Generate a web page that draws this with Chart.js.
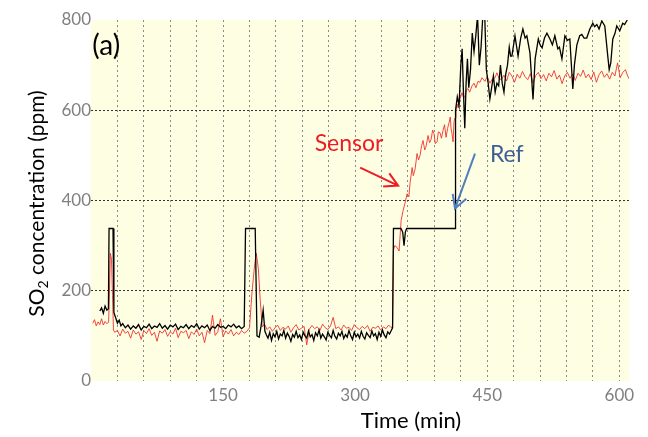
<!DOCTYPE html>
<html>
<head>
<meta charset="utf-8">
<script src="https://cdn.jsdelivr.net/npm/chart.js@4/dist/chart.umd.min.js"></script>
<style>
  html, body { margin: 0; padding: 0; background: #fff; }
  #wrap { width: 648px; height: 437px; }
</style>
</head>
<body>
<div id="wrap"><canvas id="grafica"></canvas></div>
<script>
const xTickLabels = [150, 300, 450, 600];
const yTickLabels = [0, 200, 400, 600, 800];

const refTimes = [10,12,14,16,18,19.8,20.5,25,26,28,30,32,34,36,39,42,45,48,51,54,57,60,63,66,69,72,75,78,81,84,87,90,93,96,99,102,105,108,111,114,117,120,123,126,129,132,135,138,141,144,147,150,153,156,159,162,165,168,171,174,
  175.5,186.5,188.5,191,193,195.5,197.5,199,201,203,205,207,209,211,213,215,217,219,221,223,225,227,229,231,233,235,237,239,241,243,245,247,249,251,253,255,257,259,261,263,265,267,269,271,273,275,277,279,281,283,285,287,289,291,293,295,297,299,301,303,305,307,309,311,313,315,317,319,321,323,325,327,329,331,333,335,337,339,341,342.5,
  343.5,352,354,355.5,357,358.5,413.4,414,416,418,420,421.5,423,424.5,426,427.5,429,431,433,435,437,439,441,443,445,447,449,451,453,455,457,459,461,463,465,467,469,471,473,475,476.5,478,481.5,485,488,490.5,493,495,498.5,502,504.4,508,510,512.3,515,517.8,521.2,524,526.8,530.2,532,534.8,538.2,541,543.8,547.2,549,551.8,555,557.4,560,563,566.5,569.9,572,574.5,577,580.1,583.5,586.9,588.5,590.3,592.6,595,597.1,600.5,603.9,606,609];
const refPpm = [155,162,150,166,157,160,338,338,152,140,128,135,122,127,118,124,115,122,117,125,113,121,118,126,116,122,119,127,117,123,115,124,120,126,114,121,118,125,116,123,119,127,115,122,118,124,112,121,117,125,119,121,116,124,120,126,118,122,116,121,
  338,338,100,97,120,157,110,103,95,108,90,105,98,110,93,104,100,112,95,106,99,88,103,97,110,96,102,92,108,100,95,111,98,103,90,107,100,113,95,104,98,91,108,101,96,112,99,93,106,100,110,94,103,97,112,100,92,108,98,104,95,110,99,93,107,101,96,111,100,105,92,108,99,113,102,96,109,104,112,118,
  338,338,330,300,330,338,338,600,630,610,700,736,640,560,660,714,650,690,771,730,765,810,700,740,810,820,690,661,625,650,676,640,660,654,700,660,640,680,700,740,720,720,765,720,760,780,760,765,727,624,714,758,745,738,760,771,758,745,765,736,740,714,765,755,758,647,700,745,765,768,760,760,780,793,785,790,780,798,787,720,690,705,758,770,787,776,793,790,800];

const sensorTimes = [2,4,6,8,10,12,14,16,18,20,21,22,23.3,24.4,25.5,
  27,30,33,36,39,42,45,48,51,54,57,60,63,66,69,72,75,78,81,84,87,90,93,96,99,102,105,108,111,114,117,120,123,126,129,132,135,138,141,144,147,150,153,156,159,162,165,168,171,174,177,
  180,183,186,187.7,190,192.2,194.5,197,
  200,203,206,209,212,215,218,221,224,227,230,233,236,239,242,245,248,251,254,257,260,263,266,269,272,275,278,281,284,287,290,293,296,299,302,305,308,311,314,317,320,323,326,329,332,335,338,341,342.5,
  343.5,345,347.6,349.9,352.2,354.5,356.7,359,361,362.4,364.7,366,368.1,370.3,372,373.7,375.5,377.1,379,380.5,382.8,384.5,386.2,388,389.6,391,393,394.5,396.4,398,399.8,401.5,403.2,405,406.6,408,408.9,410,411.2,412.3,413.4,414.5,415.7,417,419.1,421.3,423,424.7,426.5,428.2,430,432.7,435,437.2,439.5,441.8,444,447.4,450,453,456,458.8,461,464,466.7,469,472,475,478,481,484,487,490,493,496,499,502,505,508,511,514,517,520,523,526,529,532,535,538,541,544,547,550,553,556,559,562,565,568,571,574,577,580,583,586,589,592,595,598,601,604,607,609,611];
const sensorPpm = [128,136,122,131,125,138,124,132,127,130,200,283,270,190,113,
  108,112,100,115,106,110,95,113,104,109,92,112,105,116,101,108,88,111,106,114,99,109,104,117,96,110,107,112,94,109,103,115,100,108,85,112,105,146,101,109,138,98,111,104,114,100,108,103,112,106,110,
  118,200,260,283,250,179,120,126,
  114,120,110,118,124,112,119,115,122,108,118,125,113,117,121,80,115,123,116,120,112,126,118,114,122,141,116,120,113,124,117,119,112,125,118,114,121,116,123,110,119,117,122,113,120,116,124,118,122,
  290,300,296,288,356,378,395,415,408,440,473,455,470,504,490,500,522,533,512,520,544,528,535,556,548,526,530,552,550,538,555,568,540,560,572,585,560,548,530,575,583,600,614,605,625,639,628,630,645,648,640,654,660,650,664,662,672,664,675,660,670,672,683,668,670,678,665,684,676,662,680,671,686,674,668,681,660,677,684,670,679,665,682,674,688,669,678,659,676,684,671,680,666,682,675,689,672,680,668,685,662,679,687,673,681,669,684,676,705,672,684,690,678,670];

// etiquetas y flechas, en unidades de datos
const notes = [
  { text: '(a)', t: 1.5, v: 742, color: '#000', size: 28 },
  { text: 'Sensor', t: 254, v: 526, color: '#ee1c24', size: 23 },
  { text: 'Ref', t: 453, v: 502, color: '#3e5f95', size: 23 }
];
const arrows = [
  { t0: 305.7, v0: 473, t1: 348.8, v1: 433, color: '#ee1c24' },
  { t0: 436.1, v0: 504, t1: 413.4, v1: 382, color: '#4f7fc0' }
];

function toPoints(times, vals) {
  return times.map((t, i) => ({ x: t, y: vals[i] }));
}

const fondoYTextos = {
  id: 'fondoYTextos',
  beforeDraw(chart) {
    const a = chart.chartArea;
    const ctx = chart.ctx;
    ctx.save();
    ctx.fillStyle = '#fefee2';
    ctx.fillRect(a.left, a.top, a.right - a.left, a.bottom - a.top);
    ctx.restore();
  },
  afterDraw(chart) {
    const ctx = chart.ctx;
    const xs = chart.scales.x, ys = chart.scales.y;
    const a = chart.chartArea;
    ctx.save();
    ctx.textBaseline = 'middle';
    notes.forEach(n => {
      ctx.fillStyle = n.color;
      ctx.font = n.size + 'px Lato';
      ctx.fillText(n.text, xs.getPixelForValue(n.t), ys.getPixelForValue(n.v));
    });
    arrows.forEach(ar => {
      const x0 = xs.getPixelForValue(ar.t0), y0 = ys.getPixelForValue(ar.v0);
      const x1 = xs.getPixelForValue(ar.t1), y1 = ys.getPixelForValue(ar.v1);
      const ang = Math.atan2(y1 - y0, x1 - x0);
      ctx.strokeStyle = ar.color;
      ctx.lineWidth = 2;
      ctx.beginPath();
      ctx.moveTo(x0, y0);
      ctx.lineTo(x1, y1);
      ctx.moveTo(x1 - 15 * Math.cos(ang - 0.5), y1 - 15 * Math.sin(ang - 0.5));
      ctx.lineTo(x1, y1);
      ctx.lineTo(x1 - 15 * Math.cos(ang + 0.5), y1 - 15 * Math.sin(ang + 0.5));
      ctx.stroke();
    });

    // titulo eje x
    ctx.fillStyle = '#000';
    ctx.font = '22px Lato';
    ctx.textAlign = 'center';
    ctx.fillText('Time (min)', 411, 421);

    // titulo eje y con subindice
    ctx.translate(37, (a.top + a.bottom) / 2 + 3);
    ctx.rotate(-Math.PI / 2);
    ctx.textAlign = 'left';
    const big = '21px Lato', small = '14px Lato';
    ctx.font = big;
    const w1 = ctx.measureText('SO').width;
    const w3 = ctx.measureText(' concentration (ppm)').width;
    ctx.font = small;
    const w2 = ctx.measureText('2').width;
    let x = -(w1 + w2 + w3) / 2;
    ctx.font = big;
    ctx.fillText('SO', x, 0);
    x += w1;
    ctx.font = small;
    ctx.fillText('2', x, 6);
    x += w2;
    ctx.font = big;
    ctx.fillText(' concentration (ppm)', x, 0);
    ctx.restore();
  }
};

const ctx = document.getElementById('grafica').getContext('2d');
new Chart(ctx, {
  type: 'line',
  data: {
    datasets: [{
      label: 'Ref',
      data: toPoints(refTimes, refPpm),
      borderColor: '#000',
      borderWidth: 1.3,
      pointRadius: 0,
      tension: 0
    }, {
      label: 'Sensor',
      data: toPoints(sensorTimes, sensorPpm),
      borderColor: 'rgba(240,40,40,0.85)',
      borderWidth: 1,
      pointRadius: 0,
      tension: 0
    }]
  },
  options: {
    responsive: true,
    maintainAspectRatio: false,
    animation: false,
    layout: { padding: { left: 27, right: 19, top: 20, bottom: 0 } },
    plugins: { legend: { display: false }, tooltip: { enabled: false } },
    scales: {
      x: {
        type: 'linear',
        min: 0,
        max: 611,
        afterFit(s) { s.height = 56; },
        border: { display: false, dash: [2, 3] },
        grid: {
          drawTicks: false,
          lineWidth: 1,
          color: c => (c.tick && c.tick.value > 0 && c.tick.value <= 600 && c.tick.value % 30 === 0) ? '#8a8a8a' : 'rgba(0,0,0,0)'
        },
        ticks: {
          stepSize: 30,
          includeBounds: false,
          padding: 4,
          color: '#808080',
          font: { family: 'Lato', size: 17 },
          maxRotation: 0,
          autoSkip: false,
          callback: v => xTickLabels.includes(v) ? String(v) : ''
        }
      },
      y: {
        min: 0,
        max: 800,
        afterFit(s) { s.width = 64; },
        border: { display: false, dash: [2, 2] },
        grid: {
          drawTicks: false,
          color: c => (c.tick && c.tick.value > 0 && c.tick.value < 800) ? '#333' : 'rgba(0,0,0,0)'
        },
        ticks: {
          stepSize: 200,
          padding: 0,
          color: '#808080',
          font: { family: 'Lato', size: 17 },
          callback: v => yTickLabels.includes(v) ? String(v) : ''
        }
      }
    }
  },
  plugins: [fondoYTextos]
});
</script>
</body>
</html>
